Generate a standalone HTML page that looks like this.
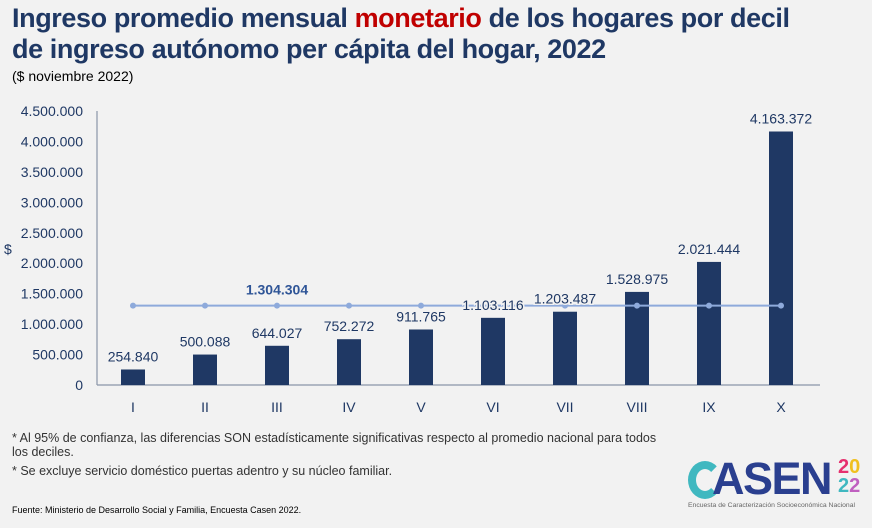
<!DOCTYPE html>
<html><head><meta charset="utf-8"><style>
body{margin:0;background:#f2f2f2;width:872px;height:528px;overflow:hidden;font-family:"Liberation Sans",sans-serif;position:relative}
.t{position:absolute;left:12px;color:#1f3864;font-size:27px;line-height:31px;font-weight:bold;letter-spacing:-0.4px}
.sm{position:absolute;font-size:12.5px;color:#333}
</style></head><body>
<div class="t" style="top:3px">Ingreso promedio mensual <span style="color:#c00000">monetario</span> de los hogares por decil<br>de ingreso autónomo per cápita del hogar, 2022</div>
<div class="sm" style="left:12px;top:68px;font-size:14px;color:#000">($ noviembre 2022)</div>
<svg id="c" width="872" height="528" style="position:absolute;left:0;top:0"></svg>
<div class="sm" style="left:12px;top:431px">* Al 95% de confianza, las diferencias SON estadísticamente significativas respecto al promedio nacional para todos<br>los deciles.</div>
<div class="sm" style="left:12px;top:464px">* Se excluye servicio doméstico puertas adentro y su núcleo familiar.</div>
<div class="sm" style="left:12px;top:505px;font-size:9px;color:#000">Fuente: Ministerio de Desarrollo Social y Familia, Encuesta Casen 2022.</div>
<div style="position:absolute;left:686px;top:458px;width:180px;height:52px">
<div style="position:absolute;left:2px;top:3px;width:34px;height:38px;border-radius:50%;border:8px solid #40b8c0;border-right-color:transparent;box-sizing:border-box"></div>
<div style="position:absolute;left:26px;top:-5px;font-size:45px;font-weight:bold;color:#2a3f8f;letter-spacing:-1.5px">ASEN</div>
<div style="position:absolute;left:152px;top:0px;font-size:20px;font-weight:bold;line-height:19px;color:#e6306e">2<span style="color:#f0c020">0</span><br><span style="color:#40b8c0">2</span><span style="color:#c060c0">2</span></div>
<div style="position:absolute;left:2px;top:44px;font-size:6.8px;color:#666;white-space:nowrap">Encuesta de Caracterización Socioeconómica Nacional</div>
</div>
<script>
const categories=["I","II","III","IV","V","VI","VII","VIII","IX","X"];
const values=[254840,500088,644027,752272,911765,1103116,1203487,1528975,2021444,4163372];
const labels=["254.840","500.088","644.027","752.272","911.765","1.103.116","1.203.487","1.528.975","2.021.444","4.163.372"];
const average=1304304;
const averageLabel="1.304.304";
const ticks=[0,500000,1000000,1500000,2000000,2500000,3000000,3500000,4000000,4500000];
const tickLabels=["0","500.000","1.000.000","1.500.000","2.000.000","2.500.000","3.000.000","3.500.000","4.000.000","4.500.000"];
const svg=document.getElementById('c');const NS="http://www.w3.org/2000/svg";
const y=v=>385-v/4500000*274;const x=i=>133+i*72;
function mk(t,a,txt){const e=document.createElementNS(NS,t);for(const k in a)e.setAttribute(k,a[k]);if(txt!=null)e.textContent=txt;svg.appendChild(e);return e;}
ticks.forEach((t,i)=>{const e=mk('text',{x:83,y:y(t)+5,'text-anchor':'end','font-size':14,fill:'#1f3864','font-family':'Liberation Sans'},tickLabels[i]);

});
const yt=mk('text',{x:4,y:254,'font-size':14,fill:'#1f3864','font-family':'Liberation Sans'},'$');


const ya=mk('line',{x1:97,y1:111,x2:97,y2:385,stroke:'#8a96a8','stroke-width':1.2});


const xa=mk('line',{x1:97,y1:385,x2:820,y2:385,stroke:'#8a96a8','stroke-width':1.2});


categories.forEach((c,i)=>{
const b=mk('rect',{x:x(i)-12,y:y(values[i]),width:24,height:385-y(values[i]),fill:'#1f3864'});


const xl=mk('text',{x:x(i),y:412,'text-anchor':'middle','font-size':14,fill:'#1f3864','font-family':'Liberation Sans'},c);


});
const al=mk('line',{x1:x(0),y1:y(average),x2:x(9),y2:y(average),stroke:'#8eaadb','stroke-width':2});


categories.forEach((c,i)=>{const d=mk('circle',{cx:x(i),cy:y(average),r:3,fill:'#8eaadb'});

});
categories.forEach((c,i)=>{
const l=mk('text',{x:x(i),y:y(values[i])-8,'text-anchor':'middle','font-size':14,fill:'#1f3864','font-family':'Liberation Sans',stroke:'#f2f2f2','stroke-width':3,'paint-order':'stroke'},labels[i]);


});
const at=mk('text',{x:x(2),y:y(average)-11,'text-anchor':'middle','font-size':14,'font-weight':'bold',fill:'#2f5597','font-family':'Liberation Sans'},averageLabel);


</script>
</body></html>
